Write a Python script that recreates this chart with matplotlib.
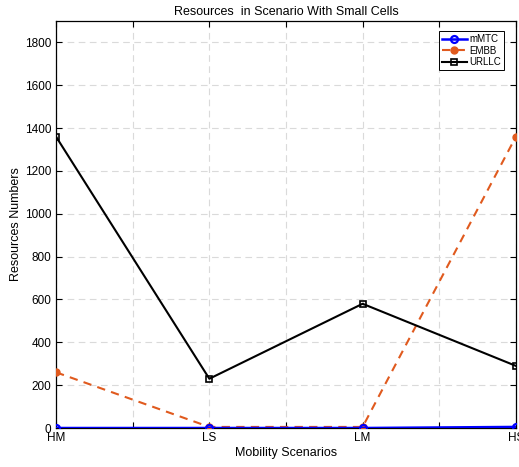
import matplotlib
matplotlib.use('Agg')
import matplotlib.pyplot as plt
from matplotlib.ticker import MultipleLocator

plt.rcParams['font.family'] = ['Liberation Sans', 'DejaVu Sans']

scenarios = ['HM', 'LS', 'LM', 'HS']
mmtc = [0, 0, 0, 5]
embb = [260, 5, 5, 1360]
urllc = [1360, 230, 580, 290]

fig = plt.figure(figsize=(5.19, 4.67), dpi=100)
ax = fig.add_axes([0.108, 0.0835, 0.886, 0.8715])
x = range(len(scenarios))

ax.plot(x, mmtc, color='blue', lw=1.8, marker='o', ms=5, mfc='none', mew=1.6, label='mMTC', zorder=4)
ax.plot(x, embb, color='#e05a1e', lw=1.5, ls=(0, (4, 3)), marker='o', ms=5, mfc='#e05a1e', mec='#e05a1e', label='EMBB', zorder=3)
ax.plot(x, urllc, color='black', lw=1.5, marker='s', ms=4.5, mfc='none', mew=1.2, label='URLLC', zorder=3)

ax.set_xlim(0, 3)
ax.set_ylim(0, 1900)
ax.set_xticks(list(x))
ax.set_xticklabels(scenarios)
ax.xaxis.set_minor_locator(MultipleLocator(0.5))
ax.yaxis.set_major_locator(MultipleLocator(200))
ax.grid(True, which='both', ls=(0, (6, 4)), color='#dadada', lw=0.8)
ax.tick_params(which='both', direction='in', top=True, right=True, labelsize=8.5, length=4, width=0.8)
ax.tick_params(axis='x', pad=3)
for s in ax.spines.values():
    s.set_linewidth(0.9)

ax.set_xlabel('Mobility Scenarios', fontsize=9, labelpad=2)
ax.set_ylabel('Resources Numbers', fontsize=9, labelpad=2)
ax.set_title('Resources  in Scenario With Small Cells', fontsize=9, pad=4)

leg = ax.legend(loc='upper right', bbox_to_anchor=(0.975, 0.975), fontsize=7, fancybox=False,
                edgecolor='black', framealpha=1, handlelength=2.6, borderpad=0.3,
                labelspacing=0.15, handletextpad=0.3, borderaxespad=0)
leg.get_frame().set_linewidth(0.7)

fig.savefig('out.png', dpi=100)
